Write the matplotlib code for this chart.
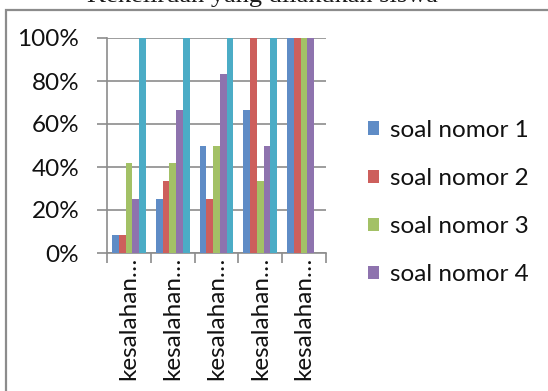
import matplotlib
matplotlib.use("Agg")
import matplotlib.pyplot as plt
from matplotlib.patches import Rectangle
import numpy as np

# Data
categories = ["kesalahan…", "kesalahan…", "kesalahan…", "kesalahan…", "kesalahan…"]
series_names = ["soal nomor 1", "soal nomor 2", "soal nomor 3", "soal nomor 4", "soal nomor 5"]
soal1 = [8.33, 25.0, 50.0, 66.67, 100.0]
soal2 = [8.33, 33.33, 25.0, 100.0, 100.0]
soal3 = [41.67, 41.67, 50.0, 33.33, 100.0]
soal4 = [25.0, 66.67, 83.33, 50.0, 100.0]
soal5 = [100.0, 100.0, 100.0, 100.0, 0.0]
values = [soal1, soal2, soal3, soal4, soal5]
colors = ["#5F8CC6", "#CD5F5C", "#A3C166", "#8E73AE", "#4BACC6"]
yticks = [0, 20, 40, 60, 80, 100]
ytick_labels = ["0%", "20%", "40%", "60%", "80%", "100%"]

W, H = 548, 391
fig = plt.figure(figsize=(W / 100, H / 100), dpi=100)
fig.patch.set_facecolor("white")

# chart frame
fig.add_artist(Rectangle((6 / W, -0.2), 1.3, 1 - 9.5 / H + 0.2, transform=fig.transFigure,
                         fill=False, edgecolor="#8C8C8C", linewidth=1.6))

# title (partly above the visible area)
fig.text(262 / W, 1 - 2 / H, "Kekeliruan yang dilakukan siswa", ha="center", va="baseline",
         fontsize=19, family="Liberation Serif", color="#1a1a1a")

FS = 17.5
left, right, top, bottom = 107, 326, 38, 253
ax = fig.add_axes([left / W, 1 - bottom / H, (right - left) / W, (bottom - top) / H])
ax.set_facecolor("none")

n_series = len(values)
gap = 1.5  # gap width relative to bar width
bar_w = 1.0 / (n_series + gap)
x = np.arange(len(categories))
for i, (vals, c, name) in enumerate(zip(values, colors, series_names)):
    offs = -0.5 + gap * bar_w / 2 + bar_w * (i + 0.5)
    ax.bar(x + offs, vals, width=bar_w, color=c, label=name, zorder=3)

ax.set_xlim(-0.5, len(categories) - 0.5)
ax.set_ylim(0, 100)
ax.set_yticks(yticks)
ax.set_yticklabels(ytick_labels, family="Lato", fontsize=FS, color="#111111")
ax.yaxis.grid(True, color="#8C8C8C", linewidth=1.2, zorder=0)
ax.tick_params(axis="y", length=7, width=1.2, color="#8C8C8C", pad=13)

# category ticks at boundaries, labels at centers
ax.set_xticks(np.arange(len(categories) + 1) - 0.5)
ax.set_xticklabels([])
ax.set_xticks(x, minor=True)
ax.set_xticklabels(categories, minor=True, rotation=90, family="Lato", fontsize=FS,
                   color="#111111", va="top", ha="center")
ax.tick_params(axis="x", which="major", length=7, width=1.2, color="#8C8C8C")
ax.tick_params(axis="x", which="minor", length=0, pad=3)

for s in ["top", "right"]:
    ax.spines[s].set_visible(False)
for s in ["left", "bottom"]:
    ax.spines[s].set_color("#8C8C8C")
    ax.spines[s].set_linewidth(1.2)

handles, labels = ax.get_legend_handles_labels()
leg = fig.legend(handles[:4], labels[:4], loc="center left",
                 bbox_to_anchor=(368 / W, 1 - 202.5 / H), frameon=False,
                 prop={"family": "Lato", "size": FS}, handlelength=0.45, handleheight=0.45,
                 handletextpad=0.45, labelspacing=1.12, borderaxespad=0, borderpad=0)
for t in leg.get_texts():
    t.set_color("#111111")

fig.savefig("out.png", dpi=100)
